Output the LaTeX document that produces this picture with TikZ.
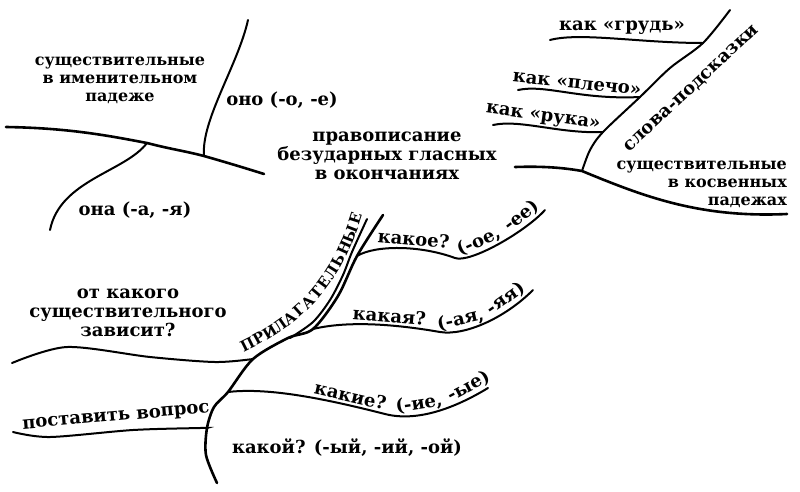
\documentclass[tikz,border=0pt]{standalone}
\usepackage{fontspec}
\setmainfont{DejaVu Serif}

\newcommand{\lblfont}{\bfseries\fontsize{18}{19}\selectfont}
\newcommand{\nounfont}{\bfseries\fontsize{16}{18}\selectfont}

\tikzset{
  trunk/.style={line width=2.6pt,line cap=round},
  branch/.style={line width=2pt,line cap=round},
  lbl/.style={font=\lblfont,align=center,inner sep=0pt},
  noun/.style={lbl,font=\nounfont},
  onpath/.style={lbl,sloped,anchor=south,pos=#1,yshift=2pt}
}

\begin{document}
\begin{tikzpicture}[x=1pt,y=-1pt]
\useasboundingbox (0,0) rectangle (800,491);

% upper left: nominative
\coordinate (l0) at (6,127);
\coordinate (ja) at (147,143);
\coordinate (jb) at (204,156);
\coordinate (l1) at (264,174);
\coordinate (lu) at (248,20);
\coordinate (ld) at (50,230);
\draw[trunk] (l0) .. controls (70,128) and (110,136) .. (ja)
  .. controls (170,149) and (185,151) .. (jb)
  .. controls (225,162) and (245,168) .. (l1);
\draw[branch] (jb) .. controls (201,120) and (238,65) .. (lu);
\draw[branch] (ja) .. controls (125,172) and (60,180) .. (ld);
\node[noun] (nom) at (120,80) {существительные\\в именительном\\падеже};
\node[lbl] (ono) at (282,100) {оно (-о, -е)};
\node[lbl] (ona) at (135,210) {она (-а, -я)};

% centre
\node[lbl] (title) at (387,156) {правописание\\безударных гласных\\в окончаниях};

% upper right: oblique cases
\coordinate (r0) at (515,167);
\coordinate (jr) at (582,171);
\coordinate (r1) at (787,214);
\coordinate (s1) at (730,10);
\coordinate (jg) at (703,43);
\coordinate (jp) at (640,97);
\coordinate (jk) at (603,132);
\coordinate (g0) at (550,40);
\coordinate (p0) at (518,90);
\coordinate (k0) at (493,125);
\draw[trunk] (r0) .. controls (545,166) and (565,168) .. (jr)
  .. controls (645,197) and (700,218) .. (r1);
\draw[branch] plot[smooth] coordinates {(jr) (590,150) (jk) (jp) (670,68) (jg) (s1)};
\draw[branch] (g0) .. controls (580,32) and (640,43) .. (jg);
\draw[branch] (p0) .. controls (545,84) and (580,100) .. (jp);
\draw[branch] (k0) .. controls (520,119) and (560,134) .. (jk);
\node[lbl] (grud) at (622,28) {как «грудь»};
\node[lbl,rotate=-6] (plecho) at (577,84) {как «плечо»};
\node[lbl,rotate=-8] (ruka) at (543,118) {как «рука»};
\node[lbl,rotate=43] (hint) at (692,89) {слова-подсказки};
\node[noun,align=right,anchor=east] (obl) at (787,184) {существительные\\в косвенных\\падежах};

% bottom: adjectives
\coordinate (b0) at (217,483);
\coordinate (jq) at (207,428);
\coordinate (je) at (228,392);
\coordinate (jf) at (253,359);
\coordinate (jy) at (313,329);
\coordinate (jo) at (357,256);
\coordinate (b1) at (383,215);
\draw[trunk] plot[smooth] coordinates {(b0) (206,455) (jq) (214,407) (je) (jf) (288,338) (jy) (338,296) (jo) (b1)};
\draw[branch] plot[smooth] coordinates {(290,338) (313,322) (330,300) (343,275) (352,252) (367,219)};
\path (244,352) .. controls (300,325) and (340,290) .. (363,212)
  foreach \ch/\t in {П/0.036,Р/0.107,И/0.179,Л/0.25,А/0.321,Г/0.393,А/0.464,
                     Т/0.536,Е/0.607,Л/0.679,Ь/0.75,Н/0.821,Ы/0.893,Е/0.964}
  {node[sloped,pos=\t,anchor=base,inner sep=0pt,font=\bfseries\fontsize{15}{16}\selectfont] {\ch}};
\draw[branch] plot[smooth] coordinates {(12,363) (67,347) (150,357) (215,362) (jf)};
\draw[branch] plot[smooth] coordinates {(13,432) (50,437) (133,430) (200,428) (jq)};
\coordinate (ke) at (385,414);
\coordinate (ke1) at (488,388);
\draw[branch] (je) .. controls (270,387) and (330,400) .. (ke)
    node[onpath=0.78] {какие?}
  .. controls (420,423) and (460,405) .. (ke1)
    node[onpath=0.33] {(-ие,} node[onpath=0.84] {-ые)};
\coordinate (ka) at (440,332);
\coordinate (ka1) at (533,290);
\draw[branch] (jy) .. controls (350,320) and (400,325) .. (ka)
    node[onpath=0.6] {какая?}
  .. controls (465,336) and (505,318) .. (ka1)
    node[onpath=0.27] {(-ая,} node[onpath=0.77] {-яя)};
\coordinate (ko) at (455,258);
\coordinate (ko1) at (545,210);
\draw[branch] (jo) .. controls (375,245) and (420,245) .. (ko)
    node[onpath=0.62] {какое?}
  .. controls (470,263.5) and (525,232) .. (ko1)
    node[onpath=0.36] {(-ое,} node[onpath=0.79] {-ее)};
\node[lbl] (dep) at (128,313) {от какого\\существительного\\зависит?};
\node[lbl,rotate=5] (ask) at (116,418) {поставить вопрос};
\node[lbl] (kakoy) at (347,448) {какой? (-ый, -ий, -ой)};
\end{tikzpicture}
\end{document}
